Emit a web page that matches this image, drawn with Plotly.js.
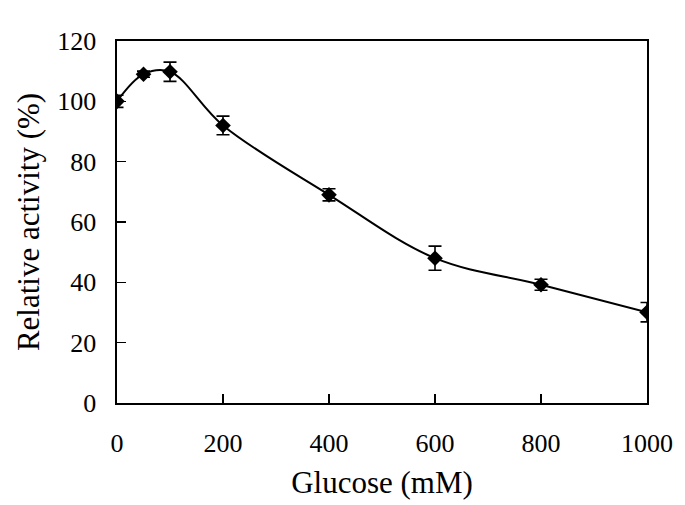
<!DOCTYPE html>
<html><head><meta charset="utf-8">
<script src="https://cdn.plot.ly/plotly-3.0.1.min.js"></script>
<style>html,body{margin:0;padding:0;background:#fff;}</style>
</head><body>
<div id="chart" style="width:685px;height:505px;"></div>
<script>
const glucose = [0, 50, 100, 200, 400, 600, 800, 1000];
const activity = [100, 109, 109.8, 92, 69, 48, 39.2, 30.1];
const errors = [2, 1, 3.2, 3.1, 2, 4, 1.8, 3.2];
const xTicks = [0, 200, 400, 600, 800, 1000];
const yTicks = [0, 20, 40, 60, 80, 100, 120];

const trace = {
  x: glucose, y: activity, type: 'scatter', mode: 'lines+markers',
  line: {color: '#000', width: 2, shape: 'spline', smoothing: 1},
  marker: {symbol: 'diamond', size: 12, color: '#000'},
  error_y: {type: 'data', array: errors, visible: true, color: '#000', thickness: 1.6, width: 6.5}
};
const fontFam = '"Liberation Serif", "Times New Roman", serif';
const layout = {
  width: 685, height: 505,
  margin: {l: 117, r: 38, t: 41, b: 102},
  paper_bgcolor: '#fff', plot_bgcolor: '#fff',
  showlegend: false,
  font: {family: fontFam, color: '#000', size: 26},
  xaxis: {
    range: [0, 1000], tickvals: xTicks, ticks: 'inside', ticklen: 9, tickwidth: 1.5, tickcolor: '#000',
    showline: true, linecolor: '#000', linewidth: 1.6, mirror: true, showgrid: false, zeroline: false,
    tickfont: {family: fontFam, size: 26}, ticklabelstandoff: 16,
    title: {text: 'Glucose (mM)', font: {family: fontFam, size: 31}, standoff: 14}
  },
  yaxis: {
    range: [0, 120], tickvals: yTicks, ticks: 'inside', ticklen: 9, tickwidth: 1.5, tickcolor: '#000',
    showline: true, linecolor: '#000', linewidth: 1.6, mirror: true, showgrid: false, zeroline: false,
    tickfont: {family: fontFam, size: 26}, ticklabelstandoff: 14,
    title: {text: 'Relative activity (%)', font: {family: fontFam, size: 31}, standoff: 8}
  }
};
Plotly.newPlot('chart', [trace], layout, {displayModeBar: false, staticPlot: true});
</script>
</body></html>
